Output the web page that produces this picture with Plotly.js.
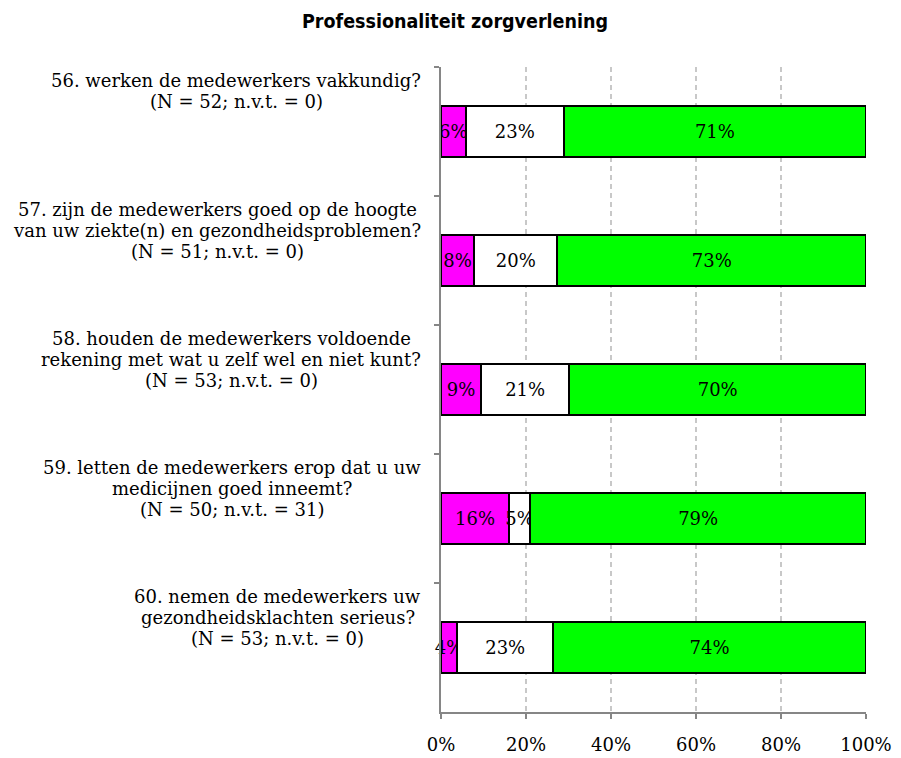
<!DOCTYPE html>
<html>
<head>
<meta charset="utf-8">
<script src="https://cdn.plot.ly/plotly-3.0.1.min.js"></script>
<style>html,body{margin:0;padding:0;background:#fff;}#chart{width:901px;height:758px;}</style>
</head>
<body>
<div id="chart"></div>
<script>
const categories = ["q56", "q57", "q58", "q59", "q60"];
const questionLabels = [
  "56. werken de medewerkers vakkundig?<br>(N = 52; n.v.t. = 0)",
  "57. zijn de medewerkers goed op de hoogte<br>van uw ziekte(n) en gezondheidsproblemen?<br>(N = 51; n.v.t. = 0)",
  "58. houden de medewerkers voldoende<br>rekening met wat u zelf wel en niet kunt?<br>(N = 53; n.v.t. = 0)",
  "59. letten de medewerkers erop dat u uw<br>medicijnen goed inneemt?<br>(N = 50; n.v.t. = 31)",
  "60. nemen de medewerkers uw<br>gezondheidsklachten serieus?<br>(N = 53; n.v.t. = 0)"
];
const seriesMagenta = [5.8, 7.8, 9.4, 16.0, 3.8];
const seriesWhite = [23.1, 19.6, 20.8, 5.0, 22.6];
const seriesGreen = [71.1, 72.6, 69.8, 79.0, 73.6];
const xTickVals = [0, 20, 40, 60, 80, 100];
const xTickText = ["0%", "20%", "40%", "60%", "80%", "100%"];

const serif = "DejaVu Serif, Liberation Serif, serif";
const labelSize = 18;
const lineGap = 21;

function barTrace(vals, color, name) {
  return {
    type: "bar",
    orientation: "h",
    name: name,
    y: categories,
    x: vals,
    width: 0.4,
    marker: {color: color, line: {color: "#000000", width: 2}},
    text: vals.map(v => Math.round(v) + "%"),
    texttemplate: "%{text}",
    textposition: "inside",
    insidetextanchor: "middle",
    textangle: 0,
    constraintext: "none",
    cliponaxis: false,
    textfont: {family: serif, size: 18, color: "#000000"},
    hoverinfo: "skip"
  };
}

const data = [
  barTrace(seriesMagenta, "#ff00ff", "magenta"),
  barTrace(seriesWhite, "#ffffff", "white"),
  barTrace(seriesGreen, "#00ff00", "green")
];

// measure text widths to center each line within its right-aligned block
const ctx = document.createElement("canvas").getContext("2d");
ctx.font = labelSize + "px 'DejaVu Serif'";
const annotations = [];
questionLabels.forEach((lbl, i) => {
  const lines = lbl.split("<br>");
  const maxW = Math.max(...lines.map(l => ctx.measureText(l).width));
  lines.forEach((line, k) => {
    annotations.push({
      xref: "paper", yref: "y",
      x: 0, y: i - 0.5,
      xanchor: "center", yanchor: "middle",
      xshift: -20 - maxW / 2,
      yshift: -(13 + lineGap * k),
      showarrow: false,
      text: line,
      font: {family: serif, size: labelSize, color: "#000000"}
    });
  });
});

const layout = {
  width: 901, height: 758,
  paper_bgcolor: "#ffffff", plot_bgcolor: "#ffffff",
  margin: {l: 441, r: 35, t: 67, b: 46},
  barmode: "stack",
  showlegend: false,
  title: {
    text: "<b>Professionaliteit zorgverlening</b>",
    x: 0.505, xanchor: "center", y: 0.972, yanchor: "middle",
    font: {family: "Liberation Sans Narrow, Arial Narrow, DejaVu Sans Condensed, sans-serif", size: 19.5, color: "#000000"}
  },
  xaxis: {
    range: [0, 100],
    tickvals: xTickVals, ticktext: xTickText,
    showgrid: true, gridcolor: "#c8c8c8", griddash: "5px,4px", gridwidth: 1.5,
    zeroline: false,
    showline: true, linecolor: "#868686", linewidth: 2,
    ticks: "outside", ticklen: 5, tickcolor: "#868686", tickwidth: 1.5,
    ticklabelstandoff: 10,
    tickfont: {family: serif, size: 18, color: "#000000"},
    fixedrange: true
  },
  yaxis: {
    type: "category",
    categoryorder: "array", categoryarray: categories,
    range: [4.5, -0.5],
    autorange: false,
    showticklabels: false,
    tickson: "boundaries",
    ticks: "outside", ticklen: 5, tickcolor: "#868686", tickwidth: 1.5,
    showgrid: false, zeroline: false,
    showline: true, linecolor: "#868686", linewidth: 2.5,
    fixedrange: true
  },
  annotations: annotations
};

Plotly.newPlot("chart", data, layout, {displayModeBar: false, staticPlot: true});
</script>
</body>
</html>
